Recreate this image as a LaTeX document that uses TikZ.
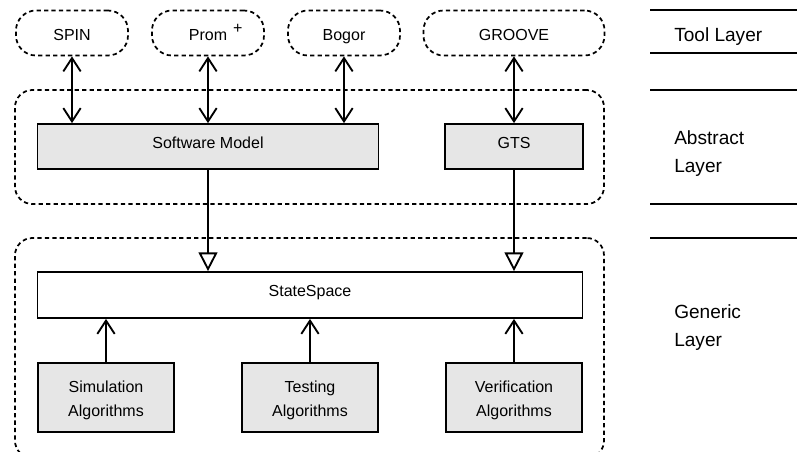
\documentclass[tikz,border=0pt]{standalone}
\usepackage{fontspec}
\setmainfont{Liberation Sans}
\usetikzlibrary{arrows.meta}
\definecolor{boxgray}{HTML}{E6E6E6}
\begin{document}
\begin{tikzpicture}[x=0.75pt,y=-0.75pt,
  dsh/.style={line width=1.3pt, dash pattern=on 3.2pt off 2.4pt},
  toolbox/.style={dsh, draw, rounded corners=15pt, minimum height=33.75pt, inner sep=0pt, text height=11pt, text depth=0.2pt, font=\fontsize{12}{14}\selectfont},
  layerbox/.style={dsh, draw, rounded corners=13pt, inner sep=0pt},
  modelbox/.style={draw, line width=1.3pt, fill=boxgray, inner sep=0pt, align=center, text height=6pt, text depth=3.4pt, font=\fontsize{12}{14}\selectfont},
  algbox/.style={draw, line width=1.3pt, fill=boxgray, inner sep=0pt, align=center, minimum width=102pt, minimum height=51.75pt, text height=29pt, text depth=0.2pt, font=\fontsize{12}{18}\selectfont},
  ssbox/.style={draw, line width=1.3pt, fill=white, inner sep=0pt, text height=6pt, text depth=3.4pt, font=\fontsize{12}{14}\selectfont},
  dblarrow/.style={line width=1.4pt, {Straight Barb[length=10pt,width=13pt]}-{Straight Barb[length=10pt,width=13pt]}},
  uparrow/.style={line width=1.4pt, -{Straight Barb[length=10pt,width=13pt]}},
  genarrow/.style={line width=1.4pt, -{Triangle[open, length=14pt, width=14pt, fill=white]}},
  layerlabel/.style={anchor=west, align=left, inner sep=0pt, font=\fontsize{14.3}{21}\selectfont},
  sepline/.style={line width=0.9pt}
]
\useasboundingbox (0,0) rectangle (797,451);
% layer containers
\node[layerbox, minimum width=441.75pt, minimum height=85.5pt] (abstractlayer) at (309.5,147) {};
\node[layerbox, minimum width=441.75pt, minimum height=165pt] (genericlayer) at (309.5,348) {};
% tools
\node[toolbox, minimum width=84pt] (spin) at (72,33) {SPIN};
\node[toolbox, minimum width=84pt] (prom) at (208,33) {Prom\rlap{\hspace{4.6pt}\raisebox{5.3pt}{+}}};
\node[toolbox, minimum width=84pt] (bogor) at (344,33) {Bogor};
\node[toolbox, minimum width=135.75pt] (groove) at (514,33) {GROOVE};
% abstract
\node[modelbox, minimum width=255.75pt, minimum height=33.75pt] (sm) at (208,146.5) {Software Model};
\node[modelbox, minimum width=103.5pt, minimum height=33.75pt] (gts) at (514,146.5) {GTS};
% generic
\node[ssbox, minimum width=408.75pt, minimum height=34.5pt] (ss) at (310,295) {StateSpace};
\node[algbox] (sim) at (106,397.5) {Simulation\\Algorithms};
\node[algbox] (test) at (310,397.5) {Testing\\Algorithms};
\node[algbox] (ver) at (514,397.5) {Verification\\Algorithms};
% arrows
\draw[dblarrow] (spin.south) -- (spin.south |- sm.north);
\draw[dblarrow] (prom.south) -- (prom.south |- sm.north);
\draw[dblarrow] (bogor.south) -- (bogor.south |- sm.north);
\draw[dblarrow] (groove.south) -- (gts.north);
\draw[genarrow] (sm.south) -- (sm.south |- ss.north);
\draw[genarrow] (gts.south) -- (gts.south |- ss.north);
\draw[uparrow] (sim.north) -- (sim.north |- ss.south);
\draw[uparrow] (test.north) -- (test.north |- ss.south);
\draw[uparrow] (ver.north) -- (ver.north |- ss.south);
% right-hand legend
\coordinate (l1a) at (650,10);  \coordinate (l1b) at (797,10);
\coordinate (l2a) at (650,53);  \coordinate (l2b) at (797,53);
\coordinate (l3a) at (650,90);  \coordinate (l3b) at (797,90);
\coordinate (l4a) at (650,204); \coordinate (l4b) at (797,204);
\coordinate (l5a) at (650,238); \coordinate (l5b) at (797,238);
\draw[sepline] (l1a) -- (l1b);
\draw[sepline] (l2a) -- (l2b);
\draw[sepline] (l3a) -- (l3b);
\draw[sepline] (l4a) -- (l4b);
\draw[sepline] (l5a) -- (l5b);
\node[layerlabel] (toollabel) at (674,36.5) {Tool Layer};
\node[layerlabel] (abstractlabel) at (674,153.5) {Abstract\\Layer};
\node[layerlabel] (genericlabel) at (674,327.5) {Generic\\Layer};
\end{tikzpicture}
\end{document}
